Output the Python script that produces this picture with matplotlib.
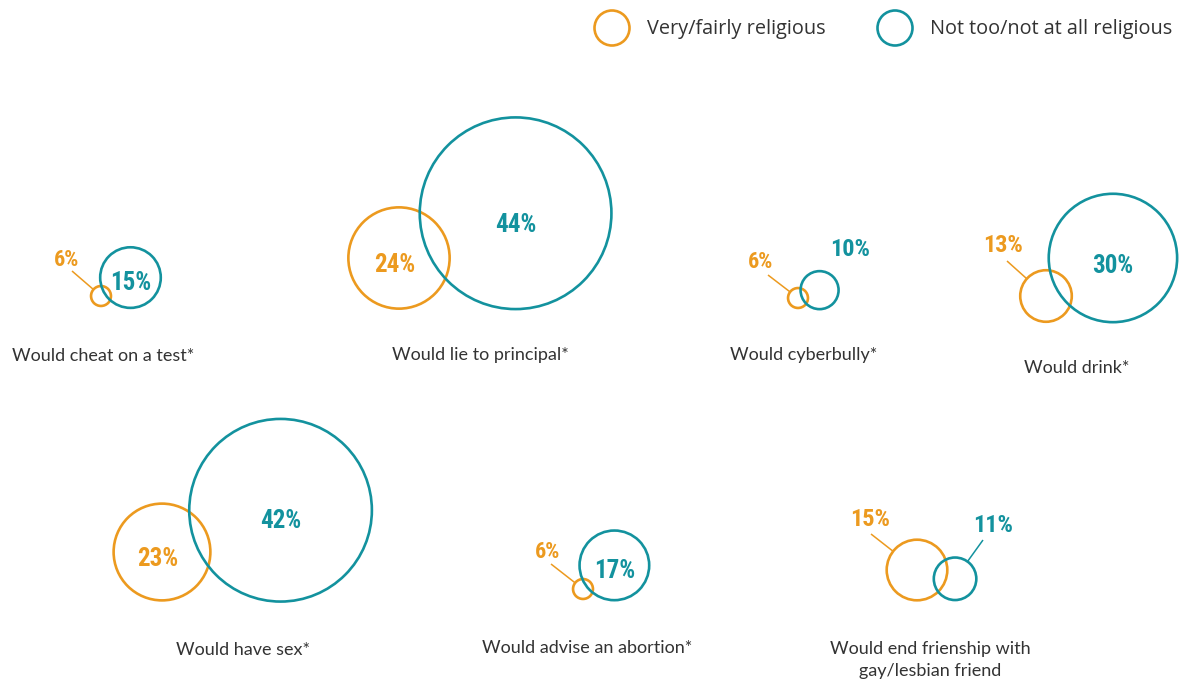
import math

import matplotlib
matplotlib.use("Agg")
import matplotlib.pyplot as plt
from matplotlib import font_manager
from matplotlib.patches import Circle

# data: share who would do each thing, by religiosity
categories = [
    "Would cheat on a test*",
    "Would lie to principal*",
    "Would cyberbully*",
    "Would drink*",
    "Would have sex*",
    "Would advise an abortion*",
    "Would end frienship with\ngay/lesbian friend",
]
religious = [6, 24, 6, 13, 23, 6, 15]
not_religious = [15, 44, 10, 30, 42, 17, 11]
series_names = ["Very/fairly religious", "Not too/not at all religious"]

ORANGE = "#EC9A1F"
TEAL = "#13929E"
TEXT = "#333333"

# layout (pixel space): orange centre, direction + overlap to teal circle,
# where to put each % label (None = inside), category label position
LAYOUT = [
    dict(c=(101, 296), ang=32, ov=5.5, lo=(67, 260), lead_o=(72, 271), lt=None, lead_t=None, lab=(103, 356)),
    dict(c=(399, 258), ang=21, ov=21.6, lo=None, lead_o=None, lt=None, lead_t=None, lab=(480, 355)),
    dict(c=(798, 298), ang=20, ov=6, lo=(761, 262), lead_o=(768, 275), lt=(850, 250), lead_t=None, lab=(804, 355)),
    dict(c=(1046, 296), ang=29.6, ov=13, lo=(1003, 246), lead_o=(1007, 261), lt=None, lead_t=None, lab=(1077, 368)),
    dict(c=(162, 552), ang=19.4, ov=14, lo=None, lead_o=None, lt=None, lead_t=None, lab=(243, 650)),
    dict(c=(583, 589), ang=37, ov=5.5, lo=(548, 552), lead_o=(551, 564), lt=None, lead_t=None, lab=(587, 648)),
    dict(c=(917, 570), ang=-13, ov=12.5, lo=(870, 520), lead_o=(871, 534), lt=(993, 525), lead_t=(983, 540), lab=(930, 660)),
]


def radius(v):
    return 2.26 * v - 3.6


# pick a narrow/condensed bold face for the percentages if one is installed
narrow_path = None
for f in font_manager.fontManager.ttflist:
    nm = (f.name + " " + f.fname).lower()
    if ("condensed" in nm or "narrow" in nm) and f.weight in (700, "bold") and "italic" not in nm and "oblique" not in nm:
        narrow_path = f.fname
        if "roboto" in nm or "liberation" in nm:
            break

if narrow_path:
    PCT = dict(fontproperties=font_manager.FontProperties(fname=narrow_path))
    pct_scale = 1.0
else:
    PCT = dict(family=["DejaVu Sans"], fontweight="bold", fontstretch="condensed")
    pct_scale = 0.9

W, H = 1186, 684
fig = plt.figure(figsize=(W / 100, H / 100), dpi=100)
fig.patch.set_facecolor("white")
ax = fig.add_axes([0, 0, 1, 1])
ax.set_xlim(0, W)
ax.set_ylim(H, 0)
ax.set_aspect("equal")
ax.axis("off")

lab_font = dict(family=["Lato", "DejaVu Sans"], color=TEXT, ha="center", va="center", fontsize=13)
LW = 1.9


def pct(x, y, s, color, size):
    t = ax.text(x, y, s, color=color, ha="center", va="center", **PCT)
    t.set_fontsize(size * pct_scale)


def leader(start, centre, r, color):
    dx, dy = start[0] - centre[0], start[1] - centre[1]
    d = math.hypot(dx, dy)
    end = (centre[0] + dx / d * r, centre[1] + dy / d * r)
    ax.plot([start[0], end[0]], [start[1], end[1]], color=color, lw=1.1, solid_capstyle="butt")


for name, vo, vt, lay in zip(categories, religious, not_religious, LAYOUT):
    ro, rt = radius(vo), radius(vt)
    cx, cy = lay["c"]
    d = ro + rt - lay["ov"]
    a = math.radians(lay["ang"])
    tx, ty = cx + d * math.cos(a), cy - d * math.sin(a)

    ax.add_patch(Circle((cx, cy), ro, fill=False, ec=ORANGE, lw=LW))
    ax.add_patch(Circle((tx, ty), rt, fill=False, ec=TEAL, lw=LW))

    # inside labels sit a little below the centre in bigger circles
    if lay["lo"] is None:
        pct(cx - 4, cy + 6.5, f"{vo}%", ORANGE, 18)
    else:
        pct(*lay["lo"], f"{vo}%", ORANGE, 16 if vo < 10 else 17.5)
        leader(lay["lead_o"], (cx, cy), ro, ORANGE)

    if lay["lt"] is None:
        pct(tx, ty + 0.1 * rt + 2, f"{vt}%", TEAL, 18)
    else:
        pct(*lay["lt"], f"{vt}%", TEAL, 17.5)
        if lay["lead_t"] is not None:
            leader(lay["lead_t"], (tx, ty), rt, TEAL)

    ax.text(*lay["lab"], name, linespacing=1.4, **lab_font)

# legend
for (lx, col), label in zip([(612, ORANGE), (895, TEAL)], series_names):
    ax.add_patch(Circle((lx, 28), 17.5, fill=False, ec=col, lw=LW))
    ax.text(lx + 35, 29, label, family=["Open Sans", "DejaVu Sans"], color=TEXT,
            fontsize=14.3, ha="left", va="center")

fig.savefig("out.png", dpi=100, facecolor="white")
